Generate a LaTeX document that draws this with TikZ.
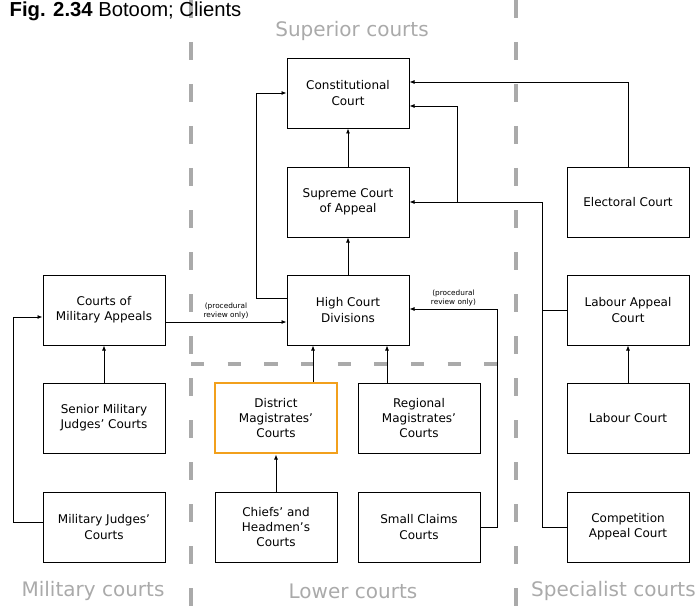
\documentclass[tikz,border=0pt]{standalone}
\usepackage{fontspec}
\setmainfont{DejaVu Sans}
\newfontfamily\titlefont{Liberation Sans}
\usepackage{xcolor}
\usetikzlibrary{arrows.meta, calc}

\definecolor{hilite}{RGB}{242,160,28}
\definecolor{sepgrey}{RGB}{170,170,170}
\definecolor{grouptext}{RGB}{170,170,170}

\begin{document}
\begin{tikzpicture}[
    x=0.75pt, y=-0.75pt,
    every node/.style={font=\fontsize{9}{11.5}\selectfont},
    court/.style={
        rectangle,
        minimum width=91.5pt,
        minimum height=52.5pt,
        inner sep=0pt,
        align=center,
        line width=0.65pt,
        draw=black
    },
    active/.style={court, draw=hilite, line width=2.2pt},
    group/.style={font=\fontsize{15}{18}\selectfont, text=grouptext},
    note/.style={font=\fontsize{5.5}{6.5}\selectfont, align=center, inner sep=1pt},
    arrow/.style={line width=0.65pt,-{Latex[length=3.8pt,width=3pt]}},
    link/.style={line width=0.65pt},
    divider/.style={sepgrey, line width=2.6pt, dash pattern=on 13.5pt off 18pt}
]
\useasboundingbox (0,0) rectangle (697,610);

% Dividers
\draw[divider] (191,0) -- (191,610);
\draw[divider] (516,0) -- (516,610);
\draw[divider, dash pattern=on 10pt off 17.5pt] (191,364) -- (516,364);

\node[anchor=base west, font=\titlefont\fontsize{15.2}{18}\selectfont] (title) at (5,16.5)
    {\textbf{Fig. 2.34} Botoom; Clients};

\node[group] (superior)   at (352,31)  {Superior courts};
\node[group] (military)   at (93,591)  {Military courts};
\node[group] (lower)      at (353,591) {Lower courts};
\node[group, anchor=east, inner sep=0pt] (specialist) at (696,591) {Specialist courts};

\node[court]  (cc)  at (348,93)  {Constitutional\\Court};
\node[court]  (sca) at (348,202) {Supreme Court\\of Appeal};
\node[court]  (hcd) at (348,310) {High Court\\Divisions};

\node[court]  (cma) at (104,310) {Courts of\\Military Appeals};
\node[court]  (smj) at (104,418) {Senior Military\\Judges' Courts};
\node[court]  (mjc) at (104,527) {Military Judges'\\Courts};

\node[active] (dmc) at (276,418) {District\\Magistrates'\\Courts};
\node[court]  (rmc) at (419,418) {Regional\\Magistrates'\\Courts};
\node[court]  (chc) at (276,527) {Chiefs' and\\Headmen's\\Courts};
\node[court]  (scc) at (419,527) {Small Claims\\Courts};

\node[court]  (elc) at (628,202) {Electoral Court};
\node[court]  (lac) at (628,310) {Labour Appeal\\Court};
\node[court]  (lbc) at (628,418) {Labour Court};
\node[court]  (cac) at (628,527) {Competition\\Appeal Court};

\coordinate (jn) at ($(sca.east)+(48,0)$);

% Arrows
\draw[arrow] (sca) -- (cc);
\draw[arrow] (hcd) -- (sca);
\draw[arrow] (smj) -- (cma);
\draw[arrow] (chc) -- (dmc);
\draw[arrow] (lbc) -- (lac);
\draw[arrow] ([xshift=27.75pt]dmc.north) -- ([xshift=-26.25pt]hcd.south);
\draw[arrow] ([xshift=-24pt]rmc.north) -- ([xshift=29.25pt]hcd.south);

\draw[arrow] ([yshift=-9pt]cma.east) -- node[note, above=1pt] {(procedural\\review only)}
    ([yshift=-9pt]hcd.west);
\draw[arrow] ([yshift=3.75pt]mjc.west) -- ++(-29,0) |- ([yshift=-5.25pt]cma.west);
\draw[arrow] ([yshift=9pt]hcd.west) -- ++(-30,0) |- (cc.west);
\draw[arrow] (scc.east) -- ++(17,0) |- node[note, above=1pt, pos=0.75] {(procedural\\review only)}
    ([yshift=0.75pt]hcd.east);

\draw[arrow] (elc.north) |- ([yshift=8.25pt]cc.east);
\draw[arrow] (cac.west) -- ++(-24,0) |- (sca.east);
\draw[link] (lac.west) -- ++(-24,0);
\draw[arrow] (jn) |- ([yshift=-9.75pt]cc.east);

\end{tikzpicture}
\end{document}
